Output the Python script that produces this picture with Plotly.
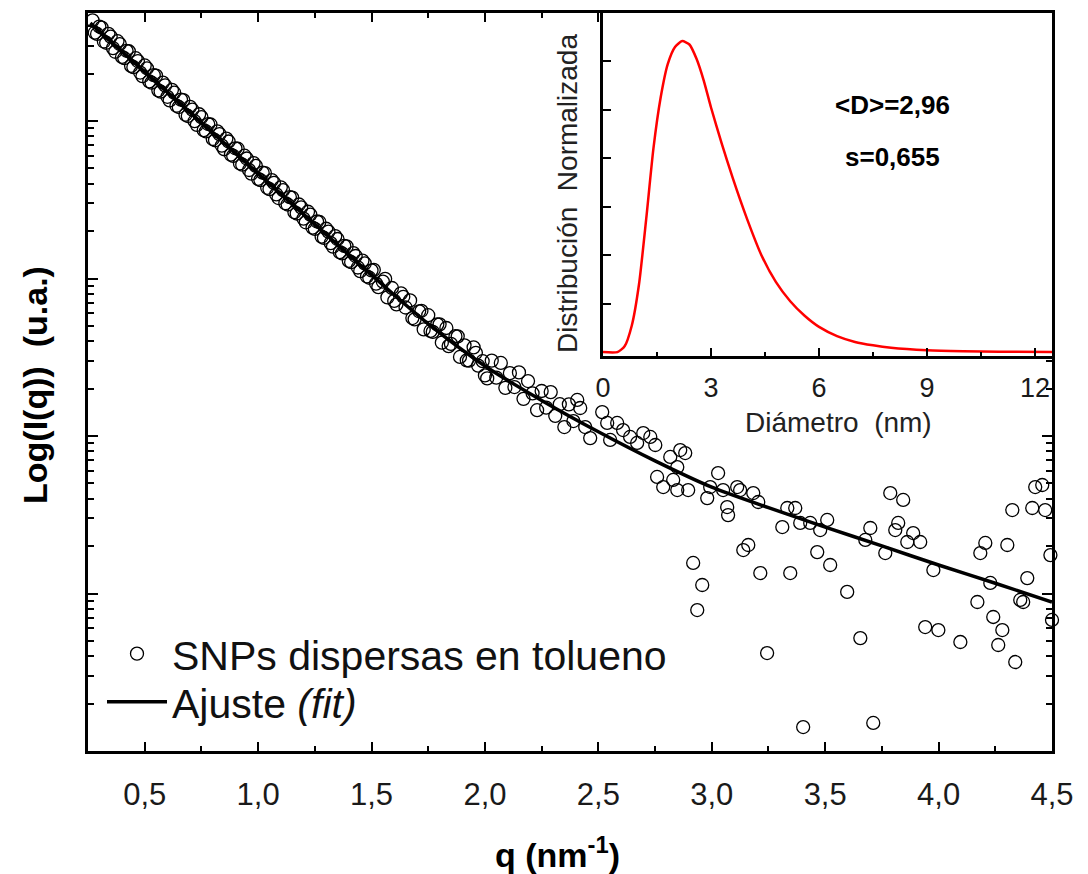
import plotly.graph_objects as go

# ---------------- SAXS curve: q (nm^-1) and log10 of intensity (a.u.) ----------------
q_data = [
    0.27, 0.29, 0.31, 0.33, 0.35, 0.37, 0.39, 0.41, 0.43, 0.45, 0.47, 0.49,
    0.51, 0.53, 0.55, 0.57, 0.59, 0.61, 0.63, 0.65, 0.67, 0.69, 0.71, 0.73,
    0.75, 0.77, 0.79, 0.81, 0.83, 0.85, 0.87, 0.89, 0.91, 0.93, 0.95, 0.97,
    0.99, 1.01, 1.03, 1.05, 1.07, 1.09, 1.11, 1.13, 1.15, 1.17, 1.19, 1.21,
    1.23, 1.25, 1.27, 1.29, 1.31, 1.33, 1.35, 1.37, 1.39, 1.41, 1.43, 1.45,
    1.47, 1.49, 1.51, 1.53, 1.55, 1.57, 1.59, 1.61, 1.63, 1.65, 1.67, 1.69,
    1.71, 1.73, 1.75, 1.77, 1.79, 1.81, 1.83, 1.85, 1.87, 1.89, 1.91, 1.93,
    1.95, 1.97, 1.99, 2.01, 2.03, 2.05, 2.07, 2.09, 2.11, 2.13, 2.15, 2.17,
    2.19, 2.21, 2.23, 2.25, 2.27, 2.29, 2.31, 2.33, 2.35, 2.37, 2.39,
    2.407, 2.420, 2.442, 2.464, 2.517, 2.539, 2.552, 2.583, 2.609, 2.640,
    2.671, 2.698, 2.729, 2.751, 2.759, 2.786, 2.817, 2.830, 2.848, 2.848,
    2.861, 2.883, 2.896, 2.918, 2.958, 2.936, 2.980, 2.993, 3.028, 3.050,
    3.068, 3.072, 3.112, 3.125, 3.139, 3.161, 3.183, 3.205, 3.214, 3.244,
    3.311, 3.333, 3.368, 3.390, 3.346, 3.434, 3.465, 3.478, 3.509, 3.522,
    3.597, 3.403, 3.655, 3.677, 3.699, 3.712, 3.765, 3.787, 3.809, 3.822,
    3.844, 3.862, 3.888, 3.919, 3.941, 3.977, 3.999, 4.096, 4.171, 4.184,
    4.206, 4.228, 4.241, 4.263, 4.281, 4.303, 4.325, 4.338, 4.360, 4.373,
    4.391, 4.413, 4.426, 4.457, 4.470, 4.493, 4.500,
]
log_i_data = [
    4.639, 4.553, 4.593, 4.497, 4.536, 4.440, 4.489, 4.399, 4.443, 4.342, 4.381, 4.285,
    4.335, 4.244, 4.288, 4.187, 4.226, 4.131, 4.180, 4.089, 4.133, 4.032, 4.072, 3.976,
    4.025, 3.934, 3.978, 3.878, 3.917, 3.821, 3.870, 3.779, 3.824, 3.723, 3.762, 3.666,
    3.715, 3.625, 3.669, 3.568, 3.607, 3.511, 3.561, 3.470, 3.514, 3.413, 3.452, 3.357,
    3.406, 3.315, 3.359, 3.258, 3.298, 3.202, 3.251, 3.160, 3.204, 3.104, 3.143, 3.047,
    3.096, 3.005, 3.055, 2.945, 2.980, 2.880, 2.940, 2.836, 2.906, 2.816, 2.861, 2.741,
    2.792, 2.677, 2.767, 2.661, 2.709, 2.593, 2.686, 2.585, 2.634, 2.502, 2.576, 2.479,
    2.563, 2.447, 2.475, 2.366, 2.479, 2.371, 2.464, 2.306, 2.399, 2.311, 2.404, 2.236,
    2.349, 2.271, 2.164, 2.286, 2.180, 2.279, 2.128, 2.202, 2.057, 2.201, 2.095,
    2.229, 2.178, 2.057, 1.987, 2.152, 2.083, 1.975, 2.083, 2.038, 1.994,
    1.956, 2.019, 1.994, 1.943, 1.740, 1.676, 1.867, 1.721, 1.657, 1.803,
    1.911, 1.892, 1.657, 1.194, 1.054, 0.895, 1.606, 1.676, 1.765, 1.657,
    1.549, 1.498, 1.676, 1.657, 1.276, 1.308, 1.638, 1.581, 1.130, 0.622,
    1.422, 1.543, 1.543, 1.448, 1.130, 1.448, 1.263, 1.403, 1.467, 1.181,
    1.010, 0.152, 0.717, 1.340, 1.416, 0.178, 1.257, 1.638, 1.403, 1.448,
    1.594, 1.327, 1.384, 1.327, 0.787, 1.149, 0.768, 0.692, 0.946, 1.257,
    1.321, 1.067, 0.851, 0.673, 0.768, 1.308, 1.530, 0.565, 0.959, 0.946,
    1.098, 1.543, 1.676, 1.689, 1.530, 1.244, 0.832,
]

# intermediate q points of the low-q region, measured on the same run
q_data_mid = [
    0.28, 0.30, 0.32, 0.34, 0.36, 0.38, 0.40, 0.42, 0.44, 0.46, 0.48, 0.50,
    0.52, 0.54, 0.56, 0.58, 0.60, 0.62, 0.64, 0.66, 0.68, 0.70, 0.72, 0.74,
    0.76, 0.78, 0.80, 0.82, 0.84, 0.86, 0.88, 0.90, 0.92, 0.94, 0.96, 0.98,
    1.00, 1.02, 1.04, 1.06, 1.08, 1.10, 1.12, 1.14, 1.16, 1.18, 1.20, 1.22,
    1.24, 1.26, 1.28, 1.30, 1.32, 1.34, 1.36, 1.38, 1.40, 1.42, 1.44, 1.46,
    1.48, 1.50, 1.52, 1.56, 1.60, 1.64, 1.68, 1.72, 1.76, 1.80, 1.84, 1.88,
    1.92, 1.96, 2.00,
]
log_i_data_mid = [
    4.561, 4.600, 4.505, 4.554, 4.463, 4.507, 4.407, 4.446, 4.350, 4.399, 4.308, 4.353,
    4.252, 4.291, 4.195, 4.244, 4.154, 4.198, 4.097, 4.136, 4.040, 4.090, 3.999, 4.043,
    3.942, 3.981, 3.886, 3.935, 3.844, 3.888, 3.787, 3.827, 3.731, 3.780, 3.689, 3.733,
    3.633, 3.672, 3.576, 3.625, 3.534, 3.579, 3.478, 3.517, 3.421, 3.470, 3.380, 3.424,
    3.323, 3.362, 3.266, 3.316, 3.225, 3.269, 3.168, 3.207, 3.112, 3.161, 3.070, 3.114,
    3.013, 3.052, 2.968, 2.998, 2.858, 2.884, 2.749, 2.795, 2.667, 2.709, 2.571, 2.633,
    2.480, 2.528, 2.385,
]

# fitted model (log10 intensity) at selected q values
q_fit = [0.26, 0.50, 0.75, 1.00, 1.25, 1.50, 1.75, 2.00, 2.25, 2.50,
         2.75, 3.00, 3.25, 3.50, 3.75, 4.00, 4.25, 4.50]
log_i_fit = [4.622, 4.312, 3.990, 3.667, 3.345, 3.022, 2.712, 2.445, 2.226, 2.027,
             1.842, 1.675, 1.545, 1.422, 1.302, 1.181, 1.065, 0.946]

# ---------------- size distribution (inset) ----------------
diam_nm = [0.0, 0.4, 0.6, 0.8, 1.0, 1.2, 1.4, 1.6, 1.8, 2.0, 2.2, 2.4, 2.6, 2.8,
           3.0, 3.3, 3.6, 4.0, 4.4, 4.8, 5.2, 5.6, 6.0, 6.5, 7.0, 7.5, 8.0,
           9.0, 10.0, 11.0, 12.5]
dist_norm = [0.0, 0.0, 0.12, 0.55, 1.40, 2.75, 4.20, 5.25, 5.95, 6.30, 6.42, 6.35,
             6.05, 5.60, 5.05, 4.30, 3.60, 2.75, 2.00, 1.45, 1.05, 0.75, 0.52,
             0.33, 0.21, 0.14, 0.09, 0.04, 0.02, 0.01, 0.0]

x_tick_vals = [0.5, 1.0, 1.5, 2.0, 2.5, 3.0, 3.5, 4.0, 4.5]
x_tick_text = ["0,5", "1,0", "1,5", "2,0", "2,5", "3,0", "3,5", "4,0", "4,5"]
inset_tick_vals = [0, 3, 6, 9, 12]
inset_tick_text = ["0", "3", "6", "9", "12"]

FONT = "Arial, Liberation Sans, sans-serif"
W, H = 1088, 874


def px_x(p):
    return p / W


def px_y(p):
    return 1 - p / H


q_all = q_data + q_data_mid
i_all = [10 ** v for v in log_i_data + log_i_data_mid]
i_fit = [10 ** v for v in log_i_fit]

fig = go.Figure()

fig.add_trace(go.Scatter(
    x=q_all, y=i_all, mode="markers", name="SNPs dispersas en tolueno",
    marker=dict(symbol="circle-open", size=13, color="black", line=dict(width=1.3)),
    cliponaxis=False, xaxis="x", yaxis="y", legend="legend",
))
fig.add_trace(go.Scatter(
    x=q_fit, y=i_fit, mode="lines", name="Ajuste <i>(fit)</i>",
    line=dict(color="black", width=3.5, shape="spline", smoothing=0.8),
    xaxis="x", yaxis="y", legend="legend2",
))
fig.add_trace(go.Scatter(
    x=diam_nm, y=dist_norm, mode="lines", showlegend=False,
    line=dict(color="#ff0000", width=2.5, shape="spline", smoothing=0.6),
    xaxis="x2", yaxis="y2",
))

log_minor = [m * 10 ** k for k in range(5) for m in range(2, 10)]

legend_style = dict(
    xanchor="left", yanchor="middle", bgcolor="rgba(0,0,0,0)",
    font=dict(size=41, family=FONT, color="#111"), itemwidth=60,
)

fig.update_layout(
    width=W, height=H,
    margin=dict(l=0, r=0, t=0, b=0, autoexpand=False),
    paper_bgcolor="white", plot_bgcolor="white",
    font=dict(family=FONT, color="#1a1a1a"),
    showlegend=True,
    legend=dict(x=px_x(102), y=px_y(654), **legend_style),
    legend2=dict(x=px_x(102), y=px_y(702), **legend_style),
    xaxis=dict(
        domain=[px_x(88), px_x(1052)], range=[0.25, 4.5], anchor="y",
        automargin=False,
        tickvals=x_tick_vals, ticktext=x_tick_text,
        ticks="inside", ticklen=9, tickwidth=2, tickcolor="black",
        showline=True, linewidth=2.5, linecolor="black", mirror="ticks",
        showgrid=False, zeroline=False,
        tickfont=dict(size=31, family=FONT, color="#1a1a1a"),
        ticklabelstandoff=14,
        minor=dict(tickvals=[0.75, 1.25, 1.75, 2.25, 2.75, 3.25, 3.75, 4.25],
                   ticks="inside", ticklen=5, tickwidth=2, tickcolor="black"),
    ),
    yaxis=dict(
        domain=[px_y(751), px_y(13)], type="log", range=[0, 4.686], anchor="x",
        automargin=False,
        tickvals=[1, 10, 100, 1000, 10000], showticklabels=False,
        ticks="inside", ticklen=10, tickwidth=2, tickcolor="black",
        showline=True, linewidth=2.5, linecolor="black", mirror="ticks",
        showgrid=False, zeroline=False,
        minor=dict(tickvals=log_minor, ticks="inside", ticklen=6, tickwidth=2,
                   tickcolor="black"),
    ),
    xaxis2=dict(
        domain=[px_x(603), px_x(1052)], range=[0, 12.47], anchor="y2",
        automargin=False,
        tickvals=inset_tick_vals, ticktext=inset_tick_text,
        ticks="inside", ticklen=8, tickwidth=2, tickcolor="black",
        showline=True, linewidth=2.5, linecolor="black", mirror=False,
        showgrid=False, zeroline=False,
        tickfont=dict(size=27, family=FONT, color="#1a1a1a"),
        ticklabelstandoff=6,
        minor=dict(tickvals=[1.5, 4.5, 7.5, 10.5], ticks="inside", ticklen=4,
                   tickwidth=2, tickcolor="black"),
    ),
    yaxis2=dict(
        domain=[px_y(356), px_y(13)], range=[-0.08, 7.0], anchor="x2",
        automargin=False,
        tickvals=[1, 2, 3, 4, 5, 6], showticklabels=False,
        ticks="inside", ticklen=8, tickwidth=2, tickcolor="black",
        showline=True, linewidth=2.5, linecolor="black", mirror=False,
        showgrid=False, zeroline=False,
    ),
)

annotations = [
    dict(text="<b>Log(I(q))  (u.a.)</b>", x=px_x(35), y=px_y(385), textangle=-90,
         font=dict(size=34, color="black")),
    dict(text="<b>q (nm<sup>-1</sup>)</b>", x=px_x(557), y=px_y(852),
         font=dict(size=34, color="black")),
    dict(text="Distribución  Normalizada", x=px_x(567), y=px_y(194), textangle=-90,
         font=dict(size=28, color="#222")),
    dict(text="Diámetro  (nm)", x=px_x(838), y=px_y(423),
         font=dict(size=28, color="#222")),
    dict(text="<b>&lt;D&gt;=2,96</b>", x=px_x(892), y=px_y(105),
         font=dict(size=26, color="black")),
    dict(text="<b>s=0,655</b>", x=px_x(892), y=px_y(157),
         font=dict(size=26, color="black")),
]
for a in annotations:
    a.update(xref="paper", yref="paper", showarrow=False, xanchor="center",
             yanchor="middle")
    a["font"]["family"] = FONT
fig.update_layout(annotations=annotations)

fig.write_html("out.html")
